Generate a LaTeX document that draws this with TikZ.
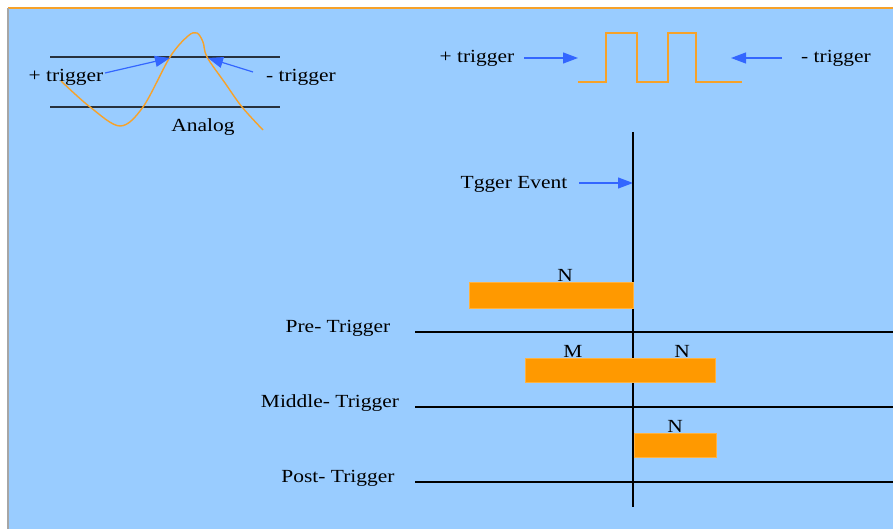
\documentclass[tikz,border=0pt]{standalone}
\usepackage{fontspec}
\setmainfont{Liberation Serif}[FakeStretch=1.16]
\usetikzlibrary{positioning,arrows.meta}
\definecolor{skyBg}{HTML}{99CCFF}
\definecolor{barOrange}{HTML}{FF9900}
\definecolor{waveOrange}{HTML}{F7A229}
\definecolor{arrowBlue}{HTML}{3366FF}
\definecolor{levelGray}{HTML}{27313D}

\begin{document}
\begin{tikzpicture}[x=1pt,y=-1pt,
    lbl/.style={font=\fontsize{18.5}{21}\selectfont, inner sep=0pt, anchor=base},
    trigarrow/.style={draw=arrowBlue, line width=1.2pt, -{Triangle[length=15pt,width=11pt]}},
    wave/.style={draw=waveOrange, line width=1.4pt},
    bar/.style={fill=barOrange, draw=barOrange!75!white, line width=0.6pt, inner sep=0pt, anchor=north west},
    axis/.style={draw=black, line width=1.1pt}]
    \useasboundingbox (0,0) rectangle (893,529);
    \fill[skyBg] (8,8) rectangle (893,529);
    \draw[waveOrange, line width=2pt] (8,8) -- (893,8);
    \draw[gray!70, line width=1.5pt] (8,8) -- (8,529);

    % analog trigger
    \draw[levelGray, line width=1.4pt] (50,57) -- (280,57);
    \draw[levelGray, line width=1.4pt] (50,107) -- (280,107);
    \draw[wave] plot[smooth, tension=0.55] coordinates {(61,81) (90,107) (120,126) (143,107) (170,57) (188,36) (197,33) (203,42) (207,57) (225,83) (242,107) (263,130)};
    \node[lbl] (aPlus) at (66,82) {+ trigger};
    \node[lbl] (aMinus) at (301,82) {- trigger};
    \node[lbl] (analog) at (203,132) {Analog};
    \coordinate (aPlusTail) at (105,73);
    \coordinate (aPlusTip) at (170,58);
    \coordinate (aMinusTail) at (253,72);
    \coordinate (aMinusTip) at (208,58);
    \draw[trigarrow] (aPlusTail) -- (aPlusTip);
    \draw[trigarrow] (aMinusTail) -- (aMinusTip);

    % digital trigger
    \draw[wave] (578,82) -- (606,82) -- (606,33) -- (637,33) -- (637,82)
        -- (668,82) -- (668,33) -- (696,33) -- (696,82) -- (742,82);
    \node[lbl] (dPlus) at (477,63) {+ trigger};
    \node[lbl] (dMinus) at (836,63) {- trigger};
    \coordinate (dPlusTail) at (524,58);
    \coordinate (dPlusTip) at (578,58);
    \coordinate (dMinusTail) at (782,58);
    \coordinate (dMinusTip) at (731,58);
    \draw[trigarrow] (dPlusTail) -- (dPlusTip);
    \draw[trigarrow] (dMinusTail) -- (dMinusTip);

    % trigger event
    \coordinate (evTop) at (633,132);
    \coordinate (evBot) at (633,507);
    \node[lbl] (event) at (514,189) {Tgger Event};
    \coordinate (evTail) at (579,183);
    \coordinate (evTip) at (633,183);
    \draw[trigarrow] (evTail) -- (evTip);

    % trigger levels
    \coordinate (preL) at (415,332);
    \coordinate (preR) at (893,332);
    \coordinate (midL) at (415,407);
    \coordinate (midR) at (893,407);
    \coordinate (postL) at (415,482);
    \coordinate (postR) at (893,482);
    \draw[axis] (preL) -- (preR);
    \draw[axis] (midL) -- (midR);
    \draw[axis] (postL) -- (postR);
    \draw[axis] (evTop) -- (evBot);
    \node[lbl] (pre) at (338,332) {Pre- Trigger};
    \node[lbl] (mid) at (330,407) {Middle- Trigger};
    \node[lbl] (post) at (338,482) {Post- Trigger};

    % capture windows
    \node[bar, minimum width=164pt, minimum height=26pt] (preBar) at (469,282) {};
    \node[bar, minimum width=190pt, minimum height=24pt] (midBar) at (525,358) {};
    \node[bar, minimum width=82pt, minimum height=24pt] (postBar) at (633.5,433) {};
    \node[lbl] (preN) at (565,281) {N};
    \node[lbl] (midM) at (573,357) {M};
    \node[lbl] (midN) at (682,357) {N};
    \node[lbl] (postN) at (675,432) {N};
\end{tikzpicture}
\end{document}
